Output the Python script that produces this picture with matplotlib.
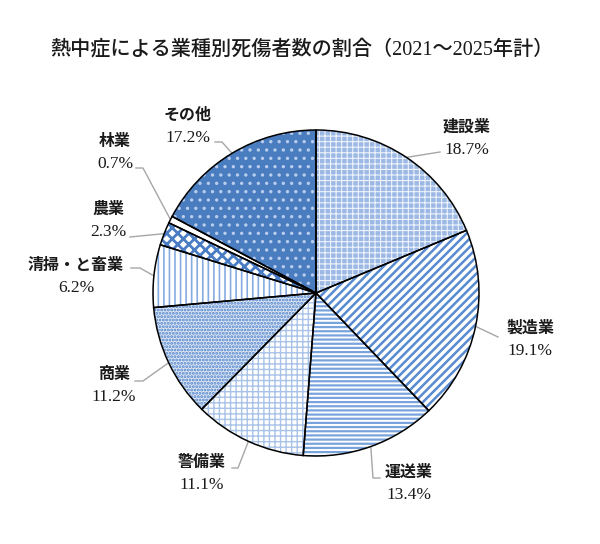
import numpy as np
import matplotlib
matplotlib.use("Agg")
import matplotlib.pyplot as plt

plt.rcParams['font.family'] = ['Liberation Serif', 'Noto Sans CJK JP']
plt.rcParams['hatch.linewidth'] = 1.4

title = "熱中症による業種別死傷者数の割合（2021～2025年計）"
categories = ["建設業", "製造業", "運送業", "警備業", "商業", "清掃・と畜業", "農業", "林業", "その他"]
values = [18.7, 19.1, 13.4, 11.1, 11.2, 6.2, 2.3, 0.7, 17.2]

face_colors = ['#9cb9e5', 'white', 'white', 'white', '#dce6f5', 'white', 'white', 'white', '#4a7cc0']
hatch_colors = ['#eef3fb', '#5a8bd0', '#78a3dc', '#a9c3e8', '#4f82c8', '#86abe0', '#4a7cc4', 'white', '#b9cdec']
hatches = ['+++', '////', '----', '+++', '.....', '|||', 'xxx', '', '..']
hatch_lw = [0.8, 1.8, 1.6, 1.0, 1.4, 1.2, 2.0, 1.0, 1.2]

# label layout (pixel coordinates, y measured from top)
label_xy = [(467, 139), (530, 340), (409, 484), (202, 474), (114, 386), (76, 277), (108, 221), (115, 153), (188, 127)]
# leader line points (text side) from label to the wedge edge
leader_pts = [
    [(440, 152)],
    [(498, 337)],
    [(380, 478), (373, 478)],
    [(232, 468), (238, 468)],
    [(135, 381), (143, 381)],
    [(131, 268), (140, 268)],
    [(130, 237)],
    [(136, 168), (143, 168)],
    [(215, 142), (222, 142)],
]

W, H = 600, 544
fig = plt.figure(figsize=(W / 100, H / 100), dpi=100)
ax = fig.add_axes([0, 0, 1, 1])

cx, cy, R = 316, H - 293, 163

wedges_fill, _ = ax.pie(values, startangle=90, counterclock=False, center=(cx, cy), radius=R,
                        colors=face_colors, wedgeprops=dict(linewidth=0))
for w, hc, h, hl in zip(wedges_fill, hatch_colors, hatches, hatch_lw):
    w.set_edgecolor(hc)
    w.set_linewidth(0)
    w.set_hatch(h)
    if hasattr(w, 'set_hatch_linewidth'):
        w.set_hatch_linewidth(hl)
    elif hasattr(w, '_hatch_linewidth'):
        w._hatch_linewidth = hl

wedges_edge, _ = ax.pie(values, startangle=90, counterclock=False, center=(cx, cy), radius=R,
                        wedgeprops=dict(fill=False, edgecolor='black', linewidth=1.1))

for w, cat, val, (lx, ly), pts in zip(wedges_edge, categories, values, label_xy, leader_pts):
    mid = np.deg2rad((w.theta1 + w.theta2) / 2)
    ex, ey = cx + R * np.cos(mid), cy + R * np.sin(mid)
    xs = [p[0] for p in pts] + [ex]
    ys = [H - p[1] for p in pts] + [ey]
    ax.plot(xs, ys, color='#a6a6a6', linewidth=1.0, zorder=0)
    ax.text(lx, H - ly + 11, cat, ha='center', va='center', fontsize=11.5,
            color='#1a1a1a', fontweight='bold')
    ax.text(lx, H - ly - 11, f"{val:.1f}%", ha='center', va='center', fontsize=12.5,
            color='#1a1a1a')

ax.text(302, H - 50, title, ha='center', va='center', fontsize=14.5, color='#1a1a1a',
        fontweight='medium')

ax.set_xlim(0, W)
ax.set_ylim(0, H)
ax.set_aspect('equal')
ax.axis('off')

fig.savefig("out.png", dpi=100)
